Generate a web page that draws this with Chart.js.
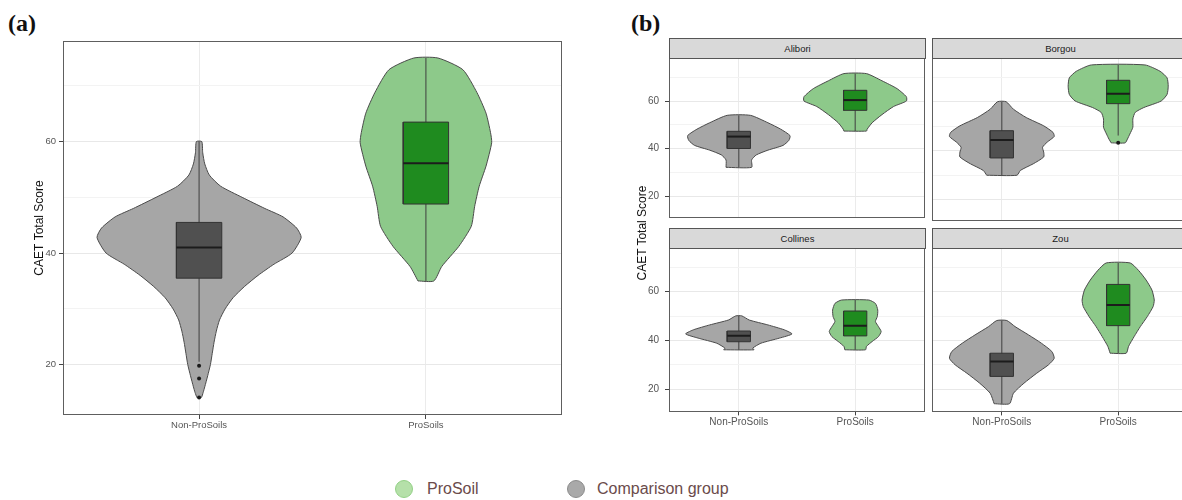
<!DOCTYPE html>
<html>
<head>
<meta charset="UTF-8">
<title>CAET Total Score - violin plots</title>
<script src="https://cdn.jsdelivr.net/npm/chart.js"></script>
<style>
  body { margin: 0; background: #fff; overflow: hidden; }
  #page { position: relative; width: 1182px; height: 500px; overflow: hidden; font-family: 'Liberation Sans', Arial, sans-serif; }
  canvas { position: absolute; }
  .tag { position: absolute; font-family: 'Liberation Serif', 'Times New Roman', serif; font-weight: bold; font-size: 24px; color: #111; }
  .strip { position: absolute; height: 21px; background: #d9d9d9; border: 1px solid #555; box-sizing: border-box;
           font-size: 9.5px; color: #1a1a1a; text-align: center; line-height: 19px; }
  .ytitle { position: absolute; width: 200px; text-align: center; font-size: 12px; color: #111; transform: rotate(-90deg); white-space: nowrap; }
  .dot { position: absolute; width: 18px; height: 18px; border-radius: 50%; box-sizing: border-box; }
  .ltext { position: absolute; font-size: 16px; color: #6b4b4b; line-height: 18px; }
</style>
</head>
<body>
<div id="page">
  <div class="tag" style="left:8px; top:10px;">(a)</div>
  <div class="tag" style="left:631px; top:10px;">(b)</div>

  <canvas id="chartA" width="570" height="440" style="left:0; top:0;"></canvas>
  <canvas id="chartAlibori" width="330" height="230" style="left:600px; top:0;"></canvas>
  <canvas id="chartBorgou" width="270" height="230" style="left:925px; top:0;"></canvas>
  <canvas id="chartCollines" width="330" height="210" style="left:600px; top:230px;"></canvas>
  <canvas id="chartZou" width="270" height="210" style="left:925px; top:230px;"></canvas>

  <div class="strip" style="left:669px; top:38px; width:257px;">Alibori</div>
  <div class="strip" style="left:932px; top:38px; width:257px;">Borgou</div>
  <div class="strip" style="left:669px; top:228px; width:257px;">Collines</div>
  <div class="strip" style="left:932px; top:228px; width:257px;">Zou</div>

  <div class="ytitle" style="left:542px; top:226px;">CAET Total Score</div>

  <div class="dot" style="left:395px; top:480px; background:#b5e0a9; border:1px solid #93d186;"></div>
  <div class="ltext" style="left:427px; top:480px;">ProSoil</div>
  <div class="dot" style="left:567px; top:480px; background:#a9a9a9; border:1px solid #8c8c8c;"></div>
  <div class="ltext" style="left:597px; top:480px;">Comparison group</div>
</div>

<script>
// categories and axis ticks
const groups = ['Non-ProSoils', 'ProSoils'];
const yTickValues = [20, 30, 40, 50, 60, 70];
const yLabelled = [20, 40, 60];
const yMin = 10.95, yMax = 78.05;

// (a) all regions: violin outline (score, half width in category units), box stats [lo, q1, median, q3, hi]
const allNonScore = [14.1, 15, 16, 18, 20, 22, 24, 26, 28, 30, 32, 34, 36, 38, 40, 42.8, 44.5, 46.5, 48, 50, 52, 54, 56, 58, 60];
const allNonWidth = [0.01, 0.018, 0.025, 0.038, 0.05, 0.058, 0.066, 0.076, 0.09, 0.115, 0.15, 0.2, 0.26, 0.33, 0.41, 0.45, 0.43, 0.37, 0.29, 0.19, 0.095, 0.045, 0.025, 0.016, 0.012];
const allNonBox = [20.5, 35.5, 41.0, 45.5, 60];
const allNonOut = [19.8, 17.5, 14.1];
const allProScore = [35, 37.6, 41.2, 44.8, 48.4, 52, 55.6, 59.8, 61.6, 65.1, 68.8, 72.9, 75];
const allProWidth = [0.035, 0.07, 0.145, 0.2, 0.215, 0.235, 0.265, 0.29, 0.285, 0.265, 0.225, 0.163, 0.053];
const allProBox = [35, 48.8, 56.1, 63.5, 75];

// (b) by region
const aliboriNonScore = [32.2, 35.3, 37.4, 39.4, 41.4, 43.5, 45.5, 48.2, 50.9, 54];
const aliboriNonWidth = [0.11, 0.11, 0.15, 0.25, 0.38, 0.43, 0.44, 0.36, 0.25, 0.10];
const aliboriNonBox = [32.2, 40.1, 45.1, 47.3, 54];
const aliboriProScore = [47.4, 48.2, 50.9, 54.3, 57.7, 60, 61.8, 65.2, 68.5, 71.5];
const aliboriProWidth = [0.097, 0.103, 0.146, 0.23, 0.33, 0.44, 0.44, 0.36, 0.23, 0.097];
const aliboriProBox = [47.4, 56.1, 60.4, 64.5, 71.5];

const borgouNonScore = [29.9, 31.9, 34.6, 37.4, 39.4, 41.4, 43.5, 45.8, 47.5, 50.2, 53.6, 57, 60.1];
const borgouNonWidth = [0.13, 0.16, 0.27, 0.36, 0.36, 0.35, 0.39, 0.45, 0.44, 0.36, 0.21, 0.10, 0.037];
const borgouNonBox = [29.9, 37.0, 44.4, 48.2, 60.1];
const borgouProScore = [43.2, 44.8, 46.8, 49.6, 53, 55.7, 57.7, 60.4, 63.1, 66.5, 69.9, 72.6, 75.2];
const borgouProWidth = [0.06, 0.08, 0.10, 0.126, 0.126, 0.146, 0.22, 0.37, 0.42, 0.43, 0.42, 0.36, 0.23];
const borgouProBox = [46.2, 59.3, 63.4, 68.9, 75.2];
const borgouProOut = [43.2];

const collinesNonScore = [36.2, 36.9, 38.9, 41, 42.7, 44.4, 46.4, 48.4, 50.1];
const collinesNonWidth = [0.13, 0.12, 0.19, 0.35, 0.457, 0.39, 0.25, 0.09, 0.026];
const collinesNonBox = [36.2, 39.5, 42.0, 43.9, 50.1];
const collinesProScore = [36.2, 37.6, 39.6, 41.6, 43.7, 45.7, 47.8, 49.8, 52.5, 55.2, 56.6];
const collinesProWidth = [0.089, 0.097, 0.146, 0.2, 0.223, 0.2, 0.174, 0.19, 0.194, 0.174, 0.117];
const collinesProBox = [36.2, 41.9, 46.1, 52.1, 56.6];

const zouNonScore = [14.1, 18.4, 22.5, 26.6, 30, 32.7, 35.5, 38.9, 42.3, 45.7, 48.2];
const zouNonWidth = [0.066, 0.10, 0.19, 0.30, 0.40, 0.45, 0.43, 0.34, 0.23, 0.114, 0.043];
const zouNonBox = [14.1, 25.3, 31.4, 34.8, 48.2];
const zouProScore = [34.8, 37.6, 41.6, 45.7, 49.8, 53.9, 56.6, 60.7, 64.8, 68.8, 71.8];
const zouProWidth = [0.069, 0.089, 0.137, 0.19, 0.25, 0.30, 0.31, 0.29, 0.24, 0.174, 0.103];
const zouProBox = [34.8, 46.1, 54.6, 63.0, 71.8];

const greyViolin = '#a6a6a6', greyBox = '#505050';
const greenViolin = '#8dc98a', greenBox = '#1f8b1f';
const fontFamily = "'Liberation Sans', Arial, sans-serif";

function violinPoints(pos, scores, widths) {
  const left = scores.map((s, i) => ({x: pos - widths[i], y: s}));
  const right = scores.map((s, i) => ({x: pos + widths[i], y: s})).reverse();
  const pts = left.concat(right);
  pts.push(pts[0]);
  return pts;
}

function groupSets(pos, scores, widths, box, outliers, fillV, fillB) {
  const [lo, q1, med, q3, hi] = box;
  const bw = 0.1;
  return [
    {data: violinPoints(pos, scores, widths), showLine: true, fill: 'shape', backgroundColor: fillV,
     borderColor: '#4a4a4a', borderWidth: 1, tension: 0.2, pointRadius: 0, order: 5},
    {data: [{x: pos, y: lo}, {x: pos, y: hi}], showLine: true, borderColor: '#3f3f3f', borderWidth: 1, pointRadius: 0, order: 4},
    {data: [{x: pos - bw, y: q1}, {x: pos + bw, y: q1}, {x: pos + bw, y: q3}, {x: pos - bw, y: q3}, {x: pos - bw, y: q1}],
     showLine: true, fill: 'shape', backgroundColor: fillB, borderColor: '#333', borderWidth: 1, tension: 0, pointRadius: 0, order: 3},
    {data: [{x: pos - bw, y: med}, {x: pos + bw, y: med}], showLine: true, borderColor: '#1c1c1c', borderWidth: 2, pointRadius: 0, order: 2},
    {data: (outliers || []).map(v => ({x: pos, y: v})), showLine: false, pointRadius: 2, pointBackgroundColor: '#1a1a1a',
     pointBorderWidth: 0, order: 1}
  ];
}

const panelBorder = {
  id: 'panelBorder',
  afterDatasetsDraw(chart) {
    const {ctx, chartArea: a} = chart;
    ctx.save();
    ctx.strokeStyle = '#5e5e5e';
    ctx.lineWidth = 1;
    ctx.strokeRect(Math.round(a.left) + 0.5, Math.round(a.top) + 0.5, Math.round(a.right - a.left) - 1, Math.round(a.bottom - a.top) - 1);
    ctx.restore();
  }
};

function makeChart(id, datasets, o) {
  return new Chart(document.getElementById(id), {
    type: 'scatter',
    data: {datasets: datasets},
    options: {
      responsive: false,
      animation: false,
      devicePixelRatio: 1,
      layout: {padding: o.pad},
      plugins: {legend: {display: false}, tooltip: {enabled: false}},
      scales: {
        x: {
          type: 'linear', min: 0.4, max: 2.6,
          afterBuildTicks: s => { s.ticks = groups.map((g, i) => ({value: i + 1})); },
          afterFit: s => { s.height = o.xH; },
          border: {display: false},
          grid: {color: '#ebebeb', drawTicks: o.showX, tickLength: 4, tickColor: '#444'},
          ticks: {display: o.showX, padding: 1, color: '#555', font: {family: fontFamily, size: o.font},
                  maxRotation: 0, callback: v => groups[v - 1]}
        },
        y: {
          type: 'linear', min: yMin, max: yMax,
          afterBuildTicks: s => { s.ticks = yTickValues.map(v => ({value: v})); },
          afterFit: s => { s.width = o.yW; },
          border: {display: false},
          title: o.title ? {display: true, text: 'CAET Total Score', color: '#111', font: {family: fontFamily, size: 12},
                            padding: {top: 8, bottom: 0}} : {display: false},
          grid: {color: c => yLabelled.includes(c.tick.value) ? '#e8e8e8' : '#f3f3f3',
                 drawTicks: o.showY, tickLength: 4,
                 tickColor: c => yLabelled.includes(c.tick.value) ? '#444' : 'rgba(0,0,0,0)'},
          ticks: {display: o.showY, padding: o.tickPad, color: '#555', font: {family: fontFamily, size: o.font},
                  callback: v => yLabelled.includes(v) ? String(v) : ''}
        }
      }
    },
    plugins: [panelBorder]
  });
}

makeChart('chartA', [
  ...groupSets(1, allNonScore, allNonWidth, allNonBox, allNonOut, greyViolin, greyBox),
  ...groupSets(2, allProScore, allProWidth, allProBox, [], greenViolin, greenBox)
], {pad: {left: 24, top: 41, right: 8, bottom: 0}, yW: 39, xH: 25, showX: true, showY: true, title: true, font: 9.5, tickPad: 3});

makeChart('chartAlibori', [
  ...groupSets(1, aliboriNonScore, aliboriNonWidth, aliboriNonBox, [], greyViolin, greyBox),
  ...groupSets(2, aliboriProScore, aliboriProWidth, aliboriProBox, [], greenViolin, greenBox)
], {pad: {left: 0, top: 58, right: 5, bottom: 0}, yW: 69, xH: 8.6, showX: false, showY: true, font: 10, tickPad: 6});

makeChart('chartBorgou', [
  ...groupSets(1, borgouNonScore, borgouNonWidth, borgouNonBox, [], greyViolin, greyBox),
  ...groupSets(2, borgouProScore, borgouProWidth, borgouProBox, borgouProOut, greenViolin, greenBox)
], {pad: {left: 0, top: 58, right: 7, bottom: 0}, yW: 7, xH: 8.6, showX: false, showY: false, font: 10, tickPad: 6});

makeChart('chartCollines', [
  ...groupSets(1, collinesNonScore, collinesNonWidth, collinesNonBox, [], greyViolin, greyBox),
  ...groupSets(2, collinesProScore, collinesProWidth, collinesProBox, [], greenViolin, greenBox)
], {pad: {left: 0, top: 17.7, right: 5, bottom: 0}, yW: 69, xH: 28.6, showX: true, showY: true, font: 10, tickPad: 6});

makeChart('chartZou', [
  ...groupSets(1, zouNonScore, zouNonWidth, zouNonBox, [], greyViolin, greyBox),
  ...groupSets(2, zouProScore, zouProWidth, zouProBox, [], greenViolin, greenBox)
], {pad: {left: 0, top: 17.7, right: 7, bottom: 0}, yW: 7, xH: 28.6, showX: true, showY: false, font: 10, tickPad: 6});
</script>
</body>
</html>
